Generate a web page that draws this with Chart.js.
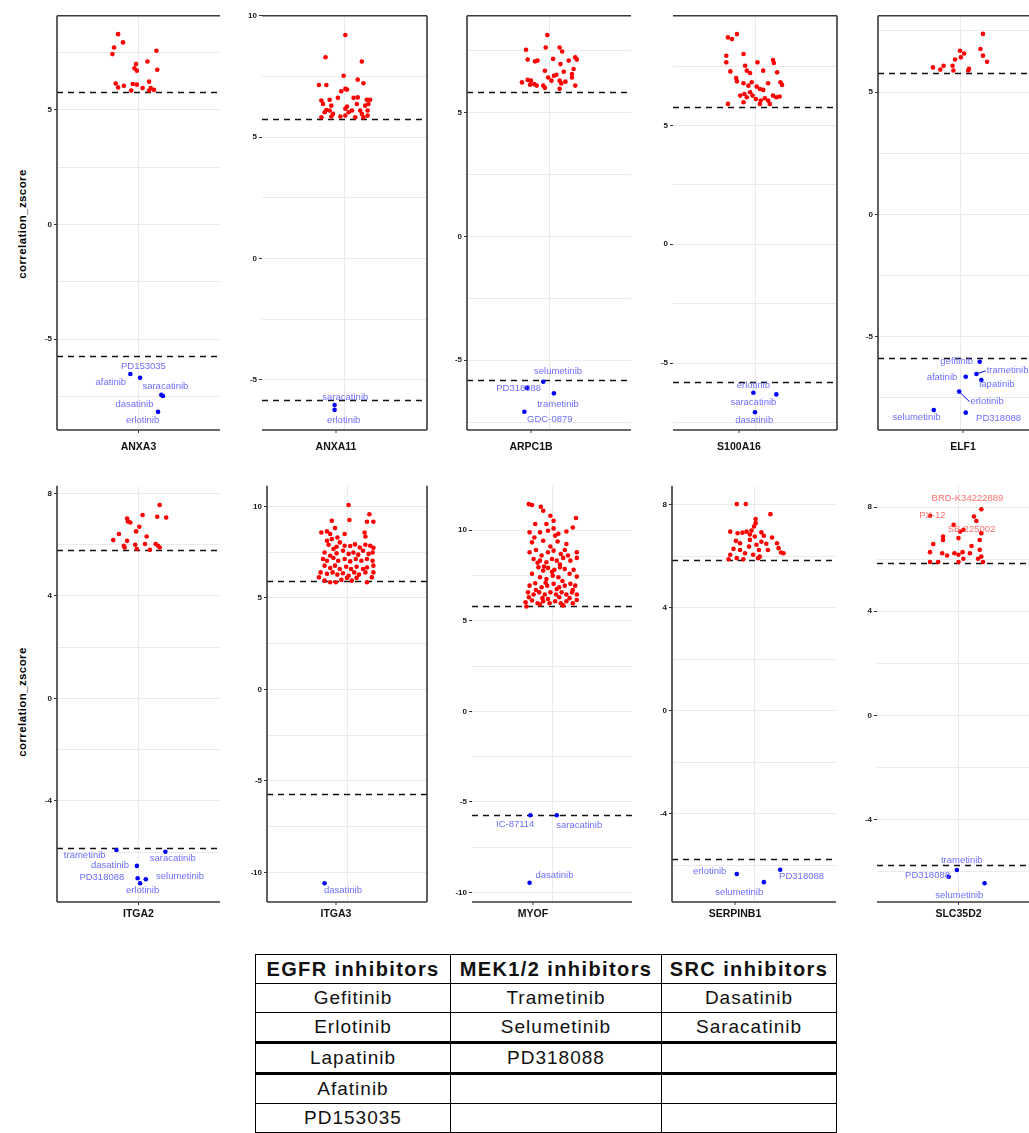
<!DOCTYPE html>
<html>
<head>
<meta charset="utf-8">
<script src="https://cdn.jsdelivr.net/npm/chart.js@4.4.1/dist/chart.umd.min.js"></script>
<style>
  html, body { margin: 0; padding: 0; background: #fff; }
  body { width: 1029px; height: 1133px; overflow: hidden; position: relative; font-family: "Liberation Sans", Arial, sans-serif; }
  .panel { position: absolute; }
  .ytitle { position: absolute; width: 160px; height: 14px; line-height: 14px; text-align: center; font-weight: bold; font-size: 11.5px; letter-spacing: 0.4px; transform: rotate(-90deg); white-space: nowrap; }
  #drugs { position: absolute; left: 255px; top: 954px; border-collapse: collapse; table-layout: fixed; }
  #drugs td { border: 1.5px solid #000; height: 28px; padding: 0; text-align: center; font-size: 19px; letter-spacing: 1px; color: #111; }
  #drugs tr.head td { font-weight: bold; font-size: 20px; letter-spacing: 1.4px; }
  #drugs tr.thick td { border-top: 3px solid #000; }
</style>
</head>
<body>
<div class="ytitle" style="left:-58px; top:217px;">correlation_zscore</div>
<div class="ytitle" style="left:-58px; top:695px;">correlation_zscore</div>
<table id="drugs"></table>
<script>
// genes, one panel each
const genes = ['ANXA3', 'ANXA11', 'ARPC1B', 'S100A16', 'ELF1', 'ITGA2', 'ITGA3', 'MYOF', 'SERPINB1', 'SLC35D2'];

// y tick labels and visible y range per panel
const yTicks = [[5, 0, -5], [10, 5, 0, -5], [5, 0, -5], [5, 0, -5], [5, 0, -5],
                [8, 4, 0, -4], [10, 5, 0, -5, -10], [10, 5, 0, -5, -10], [8, 4, 0, -4], [8, 4, 0, -4]];
const yRange = [[-8.96, 9.09], [-7.06, 10], [-7.82, 8.91], [-7.82, 9.62], [-8.82, 8.12],
                [-7.95, 8.30], [-11.61, 11.12], [-10.52, 12.45], [-7.42, 8.74], [-7.17, 8.82]];

// dashed cut-offs
const cutHigh = [5.78, 5.77, 5.85, 5.80, 5.80, 5.80, 5.94, 5.84, 5.86, 5.87];
const cutLow = [-5.74, -5.82, -5.81, -5.80, -5.88, -5.84, -5.72, -5.73, -5.75, -5.75];

// positive hits: [jitter, zscore]
const hi_ANXA3 = [[-0.25, 8.29], [-0.30, 7.71], [-0.19, 7.93], [-0.32, 7.42], [0.22, 7.57], [0.11, 7.10], [-0.03, 6.99],
  [-0.05, 6.80], [-0.02, 6.70], [0.23, 6.74], [-0.28, 6.14], [-0.25, 5.97], [-0.18, 6.04], [-0.07, 6.12], [-0.02, 6.09],
  [-0.09, 5.83], [0.05, 5.94], [0.13, 6.22], [0.15, 5.94], [0.19, 5.86], [0.13, 5.83]];
const hi_ANXA11 = [[0.01, 9.21], [-0.23, 8.29], [0.21, 8.12], [-0.01, 7.53], [0.16, 7.37], [0.23, 7.22], [-0.31, 7.15],
  [-0.22, 7.15], [0.01, 6.99], [0.03, 6.96], [-0.04, 6.89], [-0.08, 6.62], [-0.28, 6.51], [-0.18, 6.54], [0.11, 6.62],
  [0.16, 6.64], [0.27, 6.54], [0.31, 6.54], [-0.26, 6.37], [-0.16, 6.30], [0.03, 6.26], [0.15, 6.37], [0.25, 6.30],
  [0.29, 6.37], [-0.22, 6.12], [-0.24, 6.03], [-0.18, 6.10], [0.01, 6.17], [0.09, 6.10], [0.19, 6.10], [0.28, 6.10],
  [-0.28, 5.82], [-0.16, 5.85], [-0.05, 5.85], [0.01, 5.89], [0.13, 5.82], [0.23, 5.82], [0.28, 5.89], [-0.14, 5.96],
  [0.05, 6.03], [0.21, 5.96]];
const hi_ARPC1B = [[-0.02, 8.13], [-0.28, 7.54], [-0.04, 7.63], [0.13, 7.63], [0.16, 7.47], [-0.26, 7.14], [-0.17, 7.07],
  [-0.14, 7.10], [0.05, 7.17], [0.24, 7.10], [0.32, 7.23], [0.34, 7.14], [0.14, 6.96], [0.30, 6.76], [-0.05, 6.69],
  [0.18, 6.65], [0.09, 6.53], [-0.01, 6.42], [0.06, 6.49], [-0.33, 6.22], [-0.26, 6.32], [-0.22, 6.29], [-0.18, 6.15],
  [-0.15, 6.09], [-0.23, 6.13], [-0.07, 6.09], [-0.05, 6.00], [0.03, 6.29], [0.13, 6.29], [0.15, 6.18], [0.20, 6.25],
  [0.13, 5.96], [0.28, 6.42], [0.32, 6.09], [0.28, 6.56]];
const hi_S100A16 = [[-0.33, 8.71], [-0.28, 8.64], [-0.22, 8.85], [-0.35, 7.94], [-0.35, 7.66], [-0.14, 8.01], [0.03, 7.66],
  [0.22, 7.76], [0.23, 7.63], [-0.30, 7.28], [-0.12, 7.52], [-0.10, 7.31], [-0.06, 7.21], [0.10, 7.31], [0.27, 7.24],
  [-0.23, 7.00], [-0.22, 6.86], [-0.14, 6.78], [-0.08, 6.68], [-0.04, 6.82], [0.02, 6.64], [0.06, 6.54], [0.10, 6.50],
  [0.16, 6.78], [0.31, 6.82], [0.33, 6.71], [-0.18, 6.26], [-0.13, 6.33], [-0.10, 6.19], [-0.06, 6.40], [-0.03, 6.26],
  [0.01, 6.12], [0.07, 6.05], [0.12, 6.15], [0.16, 6.05], [0.22, 6.26], [0.26, 6.19], [0.30, 6.22], [-0.33, 5.91],
  [-0.14, 5.98], [0.06, 5.91], [0.18, 5.91]];
const hi_ELF1 = [[0.28, 7.38], [0.25, 6.76], [0.28, 6.49], [0.33, 6.24], [0.00, 6.69], [0.05, 6.58], [0.01, 6.42],
  [-0.06, 6.33], [-0.33, 6.01], [-0.24, 5.92], [-0.20, 6.08], [-0.09, 6.08], [-0.08, 5.88], [0.10, 5.88], [0.11, 5.95]];
const hi_ITGA2 = [[0.26, 7.55], [0.05, 7.16], [0.23, 7.09], [0.34, 7.06], [-0.14, 7.02], [-0.13, 6.91], [-0.10, 6.87],
  [0.01, 6.70], [-0.03, 6.52], [0.10, 6.32], [-0.24, 6.42], [-0.31, 6.18], [-0.14, 6.15], [-0.18, 5.96], [-0.04, 6.00],
  [0.08, 6.03], [0.21, 6.03], [0.24, 5.96], [-0.02, 5.83], [0.14, 5.80], [0.26, 5.89], [-0.17, 5.89]];
const hi_ITGA3 = [[0.02, 10.07], [0.28, 9.57], [0.03, 9.25], [-0.19, 9.21], [0.25, 9.16], [0.33, 9.16], [-0.32, 8.57],
  [-0.25, 8.63], [-0.21, 8.49], [-0.15, 8.81], [-0.03, 8.49], [0.22, 8.57], [0.23, 8.35], [-0.25, 8.12], [-0.19, 8.21],
  [-0.12, 8.30], [-0.09, 8.03], [-0.23, 7.90], [-0.17, 7.67], [-0.13, 7.79], [-0.03, 7.85], [0.04, 7.83], [0.10, 7.92],
  [0.16, 7.75], [0.23, 7.90], [0.29, 7.85], [0.33, 7.73], [-0.28, 7.48], [-0.21, 7.30], [-0.13, 7.43], [-0.05, 7.57],
  [0.02, 7.40], [0.08, 7.48], [0.14, 7.36], [0.20, 7.57], [0.27, 7.40], [0.32, 7.48], [-0.30, 7.12], [-0.25, 7.03],
  [-0.17, 7.18], [-0.11, 7.03], [-0.03, 7.12], [0.04, 6.99], [0.11, 7.12], [0.18, 7.03], [0.25, 7.12], [0.32, 7.03],
  [-0.28, 6.76], [-0.21, 6.63], [-0.15, 6.76], [-0.09, 6.58], [-0.01, 6.70], [0.05, 6.58], [0.12, 6.70], [0.20, 6.58],
  [0.25, 6.66], [0.33, 6.76], [-0.33, 6.39], [-0.25, 6.31], [-0.18, 6.39], [-0.12, 6.27], [-0.05, 6.34], [0.02, 6.21],
  [0.09, 6.39], [0.15, 6.27], [0.23, 6.39], [0.33, 6.39], [-0.35, 6.12], [-0.28, 5.94], [-0.21, 5.85], [-0.14, 5.85],
  [-0.07, 5.98], [0.00, 6.09], [0.06, 5.94], [0.12, 6.09], [0.25, 5.85], [0.31, 6.12]];
const hi_MYOF = [[-0.29, 11.44], [-0.25, 11.39], [-0.14, 11.29], [-0.11, 11.07], [-0.02, 10.80], [0.02, 10.52], [0.30, 10.67],
  [-0.21, 10.34], [-0.07, 10.34], [-0.28, 9.88], [-0.15, 9.88], [-0.05, 9.97], [0.04, 9.70], [0.18, 9.93], [0.26, 10.15],
  [-0.25, 9.33], [-0.11, 9.42], [0.07, 9.38], [0.18, 9.24], [-0.28, 8.78], [-0.20, 8.91], [-0.13, 8.60], [-0.05, 8.78],
  [0.02, 8.87], [0.11, 8.69], [0.16, 8.91], [0.31, 8.78], [-0.23, 8.41], [-0.15, 8.32], [-0.07, 8.23], [0.00, 8.41],
  [0.06, 8.32], [0.14, 8.47], [0.23, 8.32], [0.31, 8.47], [-0.17, 7.95], [-0.11, 7.77], [-0.05, 7.92], [0.03, 7.81],
  [0.10, 7.95], [0.16, 7.86], [0.27, 7.81], [-0.15, 7.40], [-0.07, 7.31], [0.01, 7.49], [0.08, 7.40], [0.31, 7.44],
  [-0.28, 6.94], [-0.21, 7.07], [-0.13, 6.85], [-0.06, 6.94], [0.02, 7.04], [0.09, 6.85], [0.16, 6.94], [0.23, 7.04],
  [0.29, 6.94], [-0.30, 6.57], [-0.23, 6.45], [-0.16, 6.57], [-0.09, 6.45], [-0.02, 6.57], [0.05, 6.45], [0.12, 6.57],
  [0.18, 6.45], [0.25, 6.57], [0.31, 6.45], [-0.33, 6.02], [-0.25, 6.12], [-0.18, 5.97], [-0.11, 6.08], [-0.03, 5.97],
  [0.04, 6.08], [0.11, 5.97], [0.18, 6.08], [0.26, 5.97], [0.31, 6.15], [-0.32, 5.79], [-0.22, 9.60], [-0.02, 9.10],
  [0.08, 9.80], [-0.18, 8.20], [0.20, 8.60], [-0.25, 7.60], [0.00, 7.70], [0.22, 7.60], [-0.08, 7.10], [0.13, 7.20],
  [-0.20, 6.70], [0.06, 6.75], [0.26, 6.70], [-0.12, 6.25], [0.09, 6.30], [0.22, 6.25], [-0.29, 6.30], [-0.05, 6.20],
  [0.14, 5.85], [-0.15, 5.90], [0.02, 10.10], [-0.10, 8.00], [0.10, 8.10]];
const hi_SERPINB1 = [[-0.21, 8.03], [-0.10, 8.03], [0.20, 7.64], [0.02, 7.29], [0.00, 7.16], [-0.29, 6.96], [-0.20, 6.90],
  [-0.14, 6.92], [-0.09, 6.96], [-0.03, 7.00], [0.09, 6.93], [0.22, 6.73], [-0.17, 6.51], [-0.05, 6.64], [0.01, 6.77],
  [0.09, 6.57], [0.15, 6.49], [0.28, 6.51], [-0.25, 6.29], [-0.17, 6.25], [-0.06, 6.38], [0.06, 6.25], [0.17, 6.25],
  [0.30, 6.32], [0.33, 6.15], [-0.29, 6.06], [-0.11, 6.12], [-0.01, 6.06], [0.07, 5.99], [0.36, 6.12], [-0.31, 5.89],
  [-0.21, 5.93], [-0.13, 5.89], [0.05, 5.93], [-0.05, 6.85], [0.03, 6.45], [0.12, 6.80], [-0.22, 6.60], [0.02, 7.45]];
const hi_SLC35D2 = [[0.19, 7.64], [0.22, 7.47], [-0.19, 6.87], [0.02, 7.06], [0.06, 7.13], [0.28, 7.00], [0.26, 6.74],
  [-0.31, 6.58], [-0.19, 6.74], [0.00, 6.81], [0.16, 6.51], [-0.35, 6.27], [-0.20, 6.23], [-0.14, 6.14], [-0.05, 6.23],
  [0.00, 6.17], [0.05, 6.27], [0.14, 6.23], [0.26, 6.36], [0.28, 6.10], [-0.35, 5.89], [-0.25, 5.89], [0.00, 5.89],
  [0.06, 6.02], [0.30, 5.89], [0.24, 6.02]];

// labelled positive hits: [jitter, zscore, name, label jitter, label zscore]
const hiLab_SLC35D2 = [[0.28, 7.92, 'BRD-K34222889', 0.11, 8.34], [-0.35, 7.67, 'PX-12', -0.32, 7.67],
  [-0.06, 7.32, 'SB-225002', 0.16, 7.13]];

// negative hits: [jitter, zscore, drug, label jitter, label zscore, leader line]
const lo_ANXA3 = [[0.02, -6.68, 'PD153035', 0.06, -6.17], [-0.10, -6.52, 'afatinib', -0.34, -6.87],
  [0.28, -7.43, 'saracatinib', 0.33, -7.04], [0.30, -7.48, 'dasatinib', -0.05, -7.83], [0.24, -8.17, 'erlotinib', 0.05, -8.52]];
const lo_ANXA11 = [[-0.12, -6.03, 'saracatinib', 0.01, -5.70], [-0.12, -6.23, 'erlotinib', -0.01, -6.65]];
const lo_ARPC1B = [[-0.07, -5.87, 'selumetinib', 0.11, -5.44], [-0.27, -6.12, 'PD318088', -0.37, -6.12],
  [0.06, -6.34, 'trametinib', 0.11, -6.79], [-0.30, -7.08, 'GDC-0879', 0.01, -7.39]];
const lo_S100A16 = [[-0.02, -6.25, 'erlotinib', -0.02, -5.92], [0.26, -6.32, 'saracatinib', -0.02, -6.65],
  [0.00, -7.07, 'dasatinib', -0.01, -7.42]];
const lo_ELF1 = [[0.24, -6.03, 'gefitinib', -0.04, -6.03], [0.07, -6.64, 'afatinib', -0.22, -6.68],
  [0.20, -6.53, 'trametinib', 0.58, -6.40, 1], [0.26, -6.78, 'lapatinib', 0.45, -6.95],
  [-0.01, -7.25, 'erlotinib', 0.33, -7.66, 1], [-0.32, -8.00, 'selumetinib', -0.53, -8.31], [0.07, -8.11, 'PD318088', 0.47, -8.34]];
const lo_ITGA2 = [[-0.27, -5.92, 'trametinib', -0.66, -6.12], [-0.02, -6.54, 'dasatinib', -0.35, -6.51],
  [0.33, -5.99, 'saracatinib', 0.42, -6.24], [-0.01, -7.02, 'PD318088', -0.45, -6.98],
  [0.02, -7.22, 'erlotinib', 0.05, -7.51], [0.09, -7.06, 'selumetinib', 0.51, -6.96]];
const lo_ITGA3 = [[-0.28, -10.59, 'dasatinib', -0.05, -10.99]];
const lo_MYOF = [[-0.27, -5.73, 'IC-87114', -0.46, -6.24], [0.06, -5.73, 'saracatinib', 0.34, -6.30],
  [-0.28, -9.46, 'dasatinib', 0.03, -9.06]];
const lo_SERPINB1 = [[-0.21, -6.33, 'erlotinib', -0.54, -6.23], [0.12, -6.65, 'selumetinib', -0.18, -7.06],
  [0.32, -6.17, 'PD318088', 0.58, -6.41]];
const lo_SLC35D2 = [[-0.02, -5.94, 'trametinib', 0.04, -5.58], [-0.12, -6.20, 'PD318088', -0.38, -6.16],
  [0.32, -6.45, 'selumetinib', 0.01, -6.90]];

const hiSets = [hi_ANXA3, hi_ANXA11, hi_ARPC1B, hi_S100A16, hi_ELF1, hi_ITGA2, hi_ITGA3, hi_MYOF, hi_SERPINB1, hi_SLC35D2];
const hiLabSets = [[], [], [], [], [], [], [], [], [], hiLab_SLC35D2];
const loSets = [lo_ANXA3, lo_ANXA11, lo_ARPC1B, lo_S100A16, lo_ELF1, lo_ITGA2, lo_ITGA3, lo_MYOF, lo_SERPINB1, lo_SLC35D2];

// table of inhibitor classes
const tableHead = ['EGFR inhibitors', 'MEK1/2 inhibitors', 'SRC inhibitors'];
const egfrDrugs = ['Gefitinib', 'Erlotinib', 'Lapatinib', 'Afatinib', 'PD153035'];
const mekDrugs = ['Trametinib', 'Selumetinib', 'PD318088'];
const srcDrugs = ['Dasatinib', 'Saracatinib'];

// panel layout (plot area in page pixels, which frame sides are drawn, x tick offset)
const boxes = [
  { l: 57, t: 15, r: 220, b: 430, sides: 'ltb', tdx: 0, ldy: 17 },
  { l: 262, t: 15, r: 427, b: 430, sides: 'trb', tdx: -8.5, ldy: 17 },
  { l: 467, t: 15, r: 631, b: 430, sides: 'ltb', tdx: -18, ldy: 17 },
  { l: 673, t: 15, r: 837, b: 430, sides: 'trb', tdx: -16, ldy: 17 },
  { l: 878, t: 15, r: 1042, b: 430, sides: 'ltb', tdx: 3, ldy: 17 },
  { l: 57, t: 485, r: 220, b: 902, sides: 'lb', tdx: 0, ldy: 12 },
  { l: 267, t: 485, r: 427, b: 902, sides: 'lrb', tdx: -11, ldy: 12 },
  { l: 472, t: 485, r: 632, b: 902, sides: 'b', tdx: -19, ldy: 12 },
  { l: 672, t: 485, r: 836, b: 902, sides: 'lb', tdx: -19, ldy: 12 },
  { l: 877, t: 485, r: 1040, b: 902, sides: 'b', tdx: 0, ldy: 12 }
];

const axisW = 42, padTop = 6, padRight = 6, bottomH = 32;
const labelFont = '9.5px "Liberation Sans", Arial, sans-serif';

function drawLabel(ctx, x, y, row, color) {
  const px = x.getPixelForValue(row[3]);
  const py = y.getPixelForValue(row[4]);
  ctx.font = labelFont;
  const w = ctx.measureText(row[2]).width;
  if (row[5]) {
    ctx.strokeStyle = '#0000ff';
    ctx.lineWidth = 1;
    ctx.beginPath();
    ctx.moveTo(x.getPixelForValue(row[0]), y.getPixelForValue(row[1]));
    ctx.lineTo(px - w / 2 - 1, py);
    ctx.stroke();
  }
  ctx.fillStyle = color;
  ctx.textAlign = 'center';
  ctx.textBaseline = 'middle';
  ctx.fillText(row[2], px, py);
}

function makeOverlay(i) {
  const b = boxes[i];
  return {
    id: 'overlay' + i,
    beforeDatasetsDraw(chart) {
      const { ctx, chartArea: a, scales: { y } } = chart;
      ctx.save();
      ctx.strokeStyle = '#111';
      ctx.lineWidth = 1.5;
      ctx.setLineDash([6, 5]);
      [cutHigh[i], cutLow[i]].forEach(v => {
        const py = Math.round(y.getPixelForValue(v)) + 0.5;
        ctx.beginPath();
        ctx.moveTo(a.left, py);
        ctx.lineTo(a.right, py);
        ctx.stroke();
      });
      ctx.restore();
    },
    afterDatasetsDraw(chart) {
      const { ctx, chartArea: a, scales: { x, y } } = chart;
      ctx.save();
      loSets[i].forEach(r => drawLabel(ctx, x, y, r, '#6e6eff'));
      hiLabSets[i].forEach(r => drawLabel(ctx, x, y, r, '#ff7070'));
      // frame
      ctx.strokeStyle = '#3a3a3a';
      ctx.lineWidth = 1.6;
      ctx.beginPath();
      if (b.sides.includes('l')) { ctx.moveTo(a.left, a.top); ctx.lineTo(a.left, a.bottom); }
      if (b.sides.includes('t')) { ctx.moveTo(a.left, a.top); ctx.lineTo(a.right, a.top); }
      if (b.sides.includes('r')) { ctx.moveTo(a.right, a.top); ctx.lineTo(a.right, a.bottom); }
      if (b.sides.includes('b')) { ctx.moveTo(a.left, a.bottom); ctx.lineTo(a.right, a.bottom); }
      ctx.stroke();
      // category tick and name
      const cx = (a.left + a.right) / 2 + b.tdx;
      ctx.lineWidth = 1;
      ctx.beginPath();
      ctx.moveTo(cx, a.bottom);
      ctx.lineTo(cx, a.bottom + 3);
      ctx.stroke();
      ctx.fillStyle = '#111';
      ctx.font = 'bold 10.5px "Liberation Sans", Arial, sans-serif';
      ctx.textAlign = 'center';
      ctx.textBaseline = 'middle';
      ctx.fillText(genes[i], cx, a.bottom + b.ldy);
      ctx.restore();
    }
  };
}

genes.forEach((g, i) => {
  const b = boxes[i];
  const div = document.createElement('div');
  div.className = 'panel';
  div.style.left = (b.l - axisW) + 'px';
  div.style.top = (b.t - padTop) + 'px';
  div.style.width = (b.r - b.l + axisW + padRight) + 'px';
  div.style.height = (b.b - b.t + padTop + bottomH) + 'px';
  const cv = document.createElement('canvas');
  div.appendChild(cv);
  document.body.appendChild(div);

  const major = yTicks[i];
  const half = Math.abs(major[0] - major[1]) / 2;
  const [yMin, yMax] = yRange[i];
  const gridVals = [];
  for (let v = Math.ceil(yMin / half) * half; v <= yMax + 1e-9; v += half) gridVals.push(+v.toFixed(3));
  const isMajor = v => major.some(m => Math.abs(m - v) < 1e-6);

  const hiPts = hiSets[i].concat(hiLabSets[i]).map(p => ({ x: p[0], y: p[1] }));
  const loPts = loSets[i].map(p => ({ x: p[0], y: p[1] }));

  new Chart(cv, {
    type: 'scatter',
    data: {
      datasets: [
        { data: hiPts, backgroundColor: '#ff0000', borderWidth: 0, pointRadius: 2.3 },
        { data: loPts, backgroundColor: '#0000ff', borderWidth: 0, pointRadius: 2.3 }
      ]
    },
    options: {
      responsive: true,
      maintainAspectRatio: false,
      animation: false,
      layout: { padding: { top: padTop, right: padRight, left: 0, bottom: 0 } },
      plugins: { legend: { display: false }, tooltip: { enabled: false } },
      scales: {
        x: {
          type: 'linear', min: -1, max: 1,
          afterBuildTicks: s => { s.ticks = [{ value: 0 }]; },
          afterFit: s => { s.height = bottomH; },
          ticks: { display: false },
          grid: { color: '#ebebeb', lineWidth: 1, drawTicks: false },
          border: { display: false }
        },
        y: {
          type: 'linear', min: yMin, max: yMax,
          afterBuildTicks: s => { s.ticks = gridVals.map(v => ({ value: v })); },
          afterFit: s => { s.width = axisW; },
          ticks: {
            autoSkip: false,
            padding: 2,
            color: '#1a1a1a',
            font: { family: '"Liberation Sans", Arial, sans-serif', size: 8, weight: 'bold' },
            callback: v => (isMajor(v) ? String(v) : '')
          },
          grid: {
            color: '#ebebeb', lineWidth: 1, tickLength: 3,
            tickColor: c => (c.tick && isMajor(c.tick.value) ? '#333' : 'rgba(0,0,0,0)')
          },
          border: { display: false }
        }
      }
    },
    plugins: [makeOverlay(i)]
  });
});

// drug class table
const tbl = document.getElementById('drugs');
const colW = [194, 210, 174];
const nRows = Math.max(egfrDrugs.length, mekDrugs.length, srcDrugs.length);
const headRow = tbl.insertRow();
headRow.className = 'head';
tableHead.forEach((t, k) => { const c = headRow.insertCell(); c.textContent = t; c.style.width = colW[k] + 'px'; });
for (let r = 0; r < nRows; r++) {
  const tr = tbl.insertRow();
  if (r === 2 || r === 3) tr.className = 'thick';
  [egfrDrugs, mekDrugs, srcDrugs].forEach(list => { tr.insertCell().textContent = list[r] || ''; });
}
</script>
</body>
</html>
